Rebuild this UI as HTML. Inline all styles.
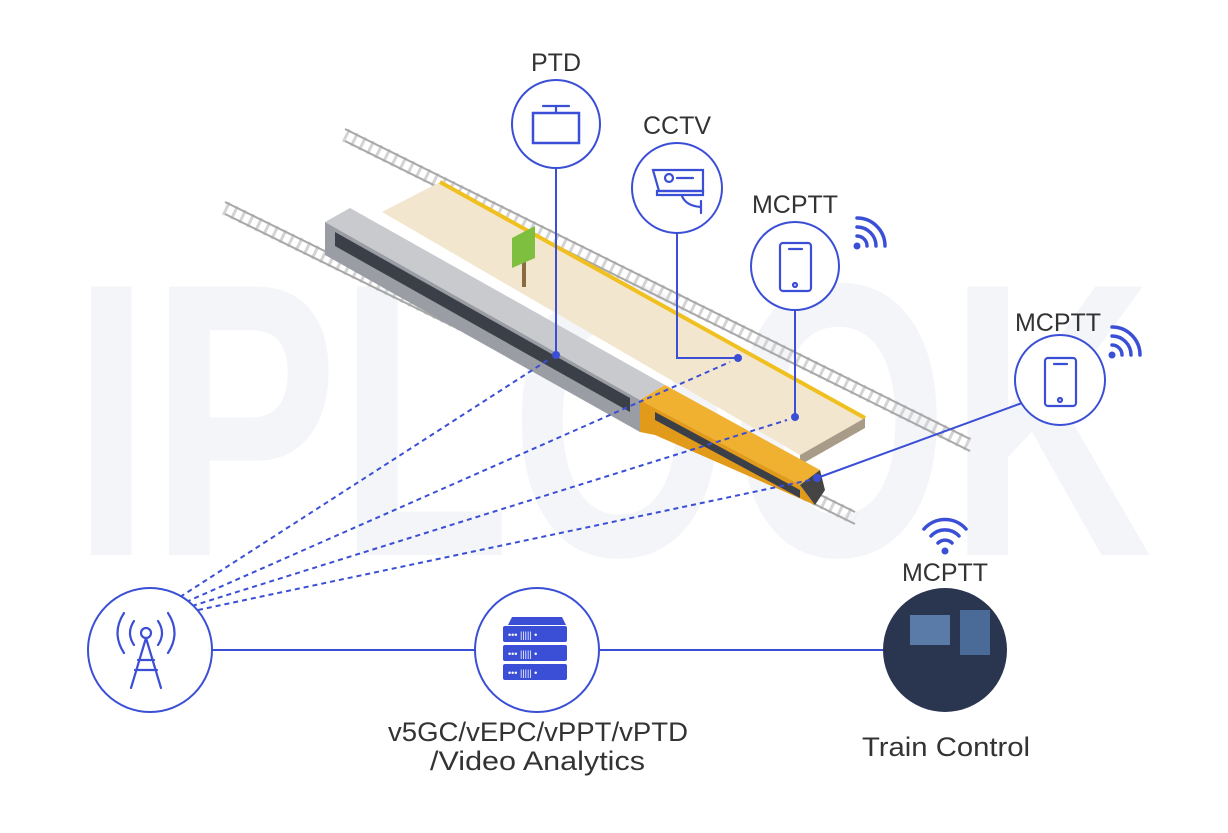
<!DOCTYPE html>
<html><head><meta charset="utf-8"><style>
html,body{margin:0;padding:0;background:#fff;}
svg{display:block;font-family:"Liberation Sans","DejaVu Sans",sans-serif;}
</style></head><body>
<svg width="1228" height="833" viewBox="0 0 1228 833" xmlns="http://www.w3.org/2000/svg">
<rect width="1228" height="833" fill="#fff"/>
<!-- watermark -->
<text x="612" y="555" text-anchor="middle" font-size="390" font-weight="bold" fill="#f4f5f9" textLength="1080" lengthAdjust="spacingAndGlyphs">IPLOOK</text>
<!-- rails -->
<g stroke="#d4d4d4" stroke-width="14" stroke-dasharray="3 6">
<line x1="345" y1="135" x2="970" y2="445"/>
<line x1="225" y1="208" x2="855" y2="518"/>
</g>
<g stroke="#a8a8a8" stroke-width="2">
<line x1="345" y1="129" x2="970" y2="439"/><line x1="345" y1="141" x2="970" y2="451"/>
<line x1="225" y1="202" x2="855" y2="512"/><line x1="225" y1="214" x2="855" y2="524"/>
</g>
<!-- platform -->
<polygon points="382,212 440,182 865,418 800,455" fill="#f3e6cf"/>
<line x1="440" y1="182" x2="865" y2="418" stroke="#f0c020" stroke-width="4"/>
<polygon points="800,455 865,418 865,428 800,465" fill="#a89b88"/>
<!-- tree -->
<rect x="522" y="252" width="4" height="35" fill="#8a6a40"/>
<polygon points="512,238 535,226 535,258 512,268" fill="#7fbf3f"/>
<!-- train -->
<polygon points="325,222 350,208 665,385 640,400" fill="#c8cace"/>
<polygon points="325,222 640,400 640,432 325,255" fill="#9a9da3"/>
<polygon points="335,232 630,398 630,412 335,246" fill="#3b3f47"/>
<polygon points="640,400 665,385 820,470 800,485" fill="#f0b030"/>
<polygon points="640,400 800,485 815,505 655,435 640,432" fill="#e29a1a"/>
<polygon points="655,412 800,490 800,498 655,420" fill="#3b3f47"/>
<polygon points="800,485 820,470 825,490 815,505" fill="#444"/>
<!-- connectors -->
<g stroke="#3a4fd6" stroke-width="2" fill="none">
<line x1="556" y1="168" x2="556" y2="355"/>
<polyline points="677,233 677,358 738,358"/>
<line x1="795" y1="310" x2="795" y2="417"/>
<line x1="1022" y1="403" x2="817" y2="478"/>
<line x1="212" y1="650" x2="475" y2="650"/>
<line x1="599" y1="650" x2="883" y2="650"/>
</g>
<g stroke="#3a4fd6" stroke-width="2" stroke-dasharray="5 4" fill="none">
<line x1="180" y1="597" x2="548" y2="360"/>
<line x1="186" y1="602" x2="730" y2="362"/>
<line x1="192" y1="606" x2="787" y2="420"/>
<line x1="198" y1="610" x2="810" y2="480"/>
</g>
<g fill="#3a4fd6">
<circle cx="556" cy="355" r="4"/><circle cx="738" cy="358" r="4"/><circle cx="795" cy="417" r="4"/><circle cx="817" cy="478" r="4"/>
</g>
<!-- circles -->
<g fill="#fff" stroke="#3a4fd6" stroke-width="2">
<circle cx="556" cy="124" r="44"/>
<circle cx="677" cy="188" r="45"/>
<circle cx="795" cy="266" r="44"/>
<circle cx="1060" cy="380" r="45"/>
<circle cx="150" cy="650" r="62"/>
<circle cx="537" cy="650" r="62"/>
</g>
<circle cx="945" cy="650" r="62" fill="#2a3550"/>
<rect x="910" y="615" width="40" height="30" fill="#5a7aa8"/><rect x="960" y="610" width="30" height="45" fill="#4a6a98"/>
<!-- icons -->
<g stroke="#3a4fd6" stroke-width="2.2" fill="none" stroke-linecap="round">
<!-- PTD -->
<rect x="533" y="113" width="46" height="30" stroke-width="2.5"/>
<line x1="543" y1="106" x2="569" y2="106"/><line x1="556" y1="106" x2="556" y2="113"/>
<!-- CCTV -->
<path d="M653 170 L703 170 L703 191 L659 191 Z"/>
<path d="M657 191 L703 191 L703 195 L657 195 Z"/>
<circle cx="669" cy="178" r="4"/><line x1="677" y1="178" x2="693" y2="178"/>
<path d="M682 196 Q686 206 701 207 M701 201 L701 213"/>
<!-- phone 1 -->
<rect x="780" y="243" width="31" height="48" rx="3"/><line x1="789" y1="249" x2="802" y2="249"/><circle cx="795" cy="285" r="2"/>
<!-- phone 2 -->
<rect x="1045" y="358" width="31" height="48" rx="3"/><line x1="1054" y1="364" x2="1067" y2="364"/><circle cx="1060" cy="400" r="2"/>
<!-- antenna -->
<circle cx="146" cy="633" r="5"/>
<path d="M146 638 L131 688 M146 638 L161 688 M138 660 L154 660 M135 670 L157 670"/>
<path d="M134 621 Q126 633 134 645 M158 621 Q166 633 158 645 M124 613 Q111 633 124 653 M168 613 Q181 633 168 653"/>
</g>
<!-- server -->
<g fill="#3a4fd6">
<polygon points="508,625 512,617 562,617 566,625"/>
<rect x="503" y="626" width="64" height="16" rx="2"/>
<rect x="503" y="645" width="64" height="16" rx="2"/>
<rect x="503" y="664" width="64" height="16" rx="2"/>
</g>
<g fill="#fff" font-size="9"><text x="508" y="638">••• ||||| •</text><text x="508" y="657">••• ||||| •</text><text x="508" y="676">••• ||||| •</text></g>
<!-- wifi -->
<g stroke="#3a4fd6" stroke-width="3.5" fill="none" stroke-linecap="round">
<path d="M857 236 A10 10 0 0 1 867 246 M857 227 A19 19 0 0 1 876 246 M857 218 A28 28 0 0 1 885 246"/>
<path d="M1112 345 A10 10 0 0 1 1122 355 M1112 336 A19 19 0 0 1 1131 355 M1112 327 A28 28 0 0 1 1140 355"/>
<path d="M938 543 A10 10 0 0 1 952 543 M931 536 A19 19 0 0 1 959 536 M924 529 A28 28 0 0 1 966 529"/>
</g>
<g fill="#3a4fd6"><circle cx="857" cy="246" r="3.5"/><circle cx="1112" cy="355" r="3.5"/><circle cx="945" cy="551" r="3.5"/></g>
<!-- labels -->
<g fill="#333" font-size="25" text-anchor="middle">
<text x="556" y="71">PTD</text>
<text x="677" y="134">CCTV</text>
<text x="795" y="213">MCPTT</text>
<text x="1058" y="331">MCPTT</text>
<text x="945" y="581">MCPTT</text>
</g>
<g fill="#333" font-size="27">
<text x="862" y="756" textLength="168" lengthAdjust="spacingAndGlyphs">Train Control</text>
<text x="388" y="741" textLength="300" lengthAdjust="spacingAndGlyphs">v5GC/vEPC/vPPT/vPTD</text>
<text x="430" y="770" textLength="215" lengthAdjust="spacingAndGlyphs">/Video Analytics</text>
</g>
</svg>
</body></html>
